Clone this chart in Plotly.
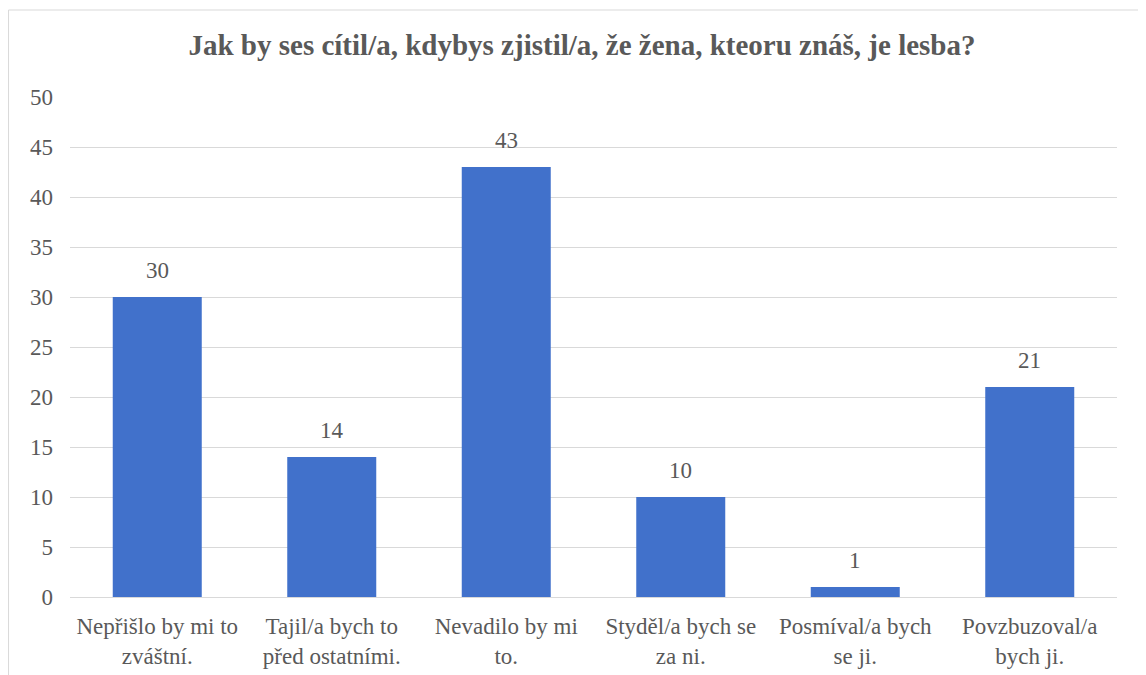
import plotly.graph_objects as go

# Survey answers: "How would you feel if you found out that a woman you know is a lesbian?"
categories = [
    "Nepřišlo by mi to<br>zváštní.",
    "Tajil/a bych to<br>před ostatními.",
    "Nevadilo by mi<br>to.",
    "Styděl/a bych se<br>za ni.",
    "Posmíval/a bych<br>se ji.",
    "Povzbuzoval/a<br>bych ji.",
]
counts = [30, 14, 43, 10, 1, 21]
y_ticks = [0, 5, 10, 15, 20, 25, 30, 35, 40, 45, 50]

title_text = "Jak by ses cítil/a, kdybys zjistil/a, že žena, kteoru znáš, je lesba?"
serif = "Liberation Serif"
grey = "#595959"

# the page body has an 8px margin, so the figure is drawn a little smaller
W, H = 1138, 667

fig = go.Figure()
fig.add_trace(go.Bar(
    x=categories,
    y=counts,
    marker=dict(color="#4171CB", line=dict(width=0)),
))

# value labels above the bars
for cat, val in zip(categories, counts):
    fig.add_annotation(
        x=cat, y=val, text=str(val), showarrow=False,
        yanchor="bottom", yshift=12,
        font=dict(family=serif, size=23, color=grey),
    )

fig.update_layout(
    width=W,
    height=H,
    margin=dict(l=62, r=29, t=89, b=78),
    paper_bgcolor="white",
    plot_bgcolor="white",
    bargap=0.49,
    showlegend=False,
    title=dict(
        text="<b>" + title_text + "</b>",
        x=574 / W, xanchor="center", xref="container",
        y=1 - 37 / H, yanchor="middle", yref="container",
        font=dict(family=serif, size=29, color=grey),
    ),
    font=dict(family=serif, size=23, color=grey),
    shapes=[dict(
        type="rect", xref="paper", yref="paper",
        x0=-0.0587, x1=1.0248, y0=-0.2, y1=1.174,
        line=dict(color="#D9D9D9", width=1),
    )],
)
fig.update_xaxes(
    automargin=False,
    showgrid=False,
    showline=True,
    linecolor="#D9D9D9",
    linewidth=1,
    ticks="",
    ticklabelstandoff=8,
    tickfont=dict(family=serif, size=23, color=grey),
)
fig.update_yaxes(
    automargin=False,
    range=[0, 50],
    tickvals=y_ticks,
    showgrid=True,
    gridcolor="#D9D9D9",
    gridwidth=1,
    zeroline=False,
    showline=False,
    ticks="",
    ticklabelstandoff=16,
    tickfont=dict(family=serif, size=23, color=grey),
)

fig.write_html("out.html")
